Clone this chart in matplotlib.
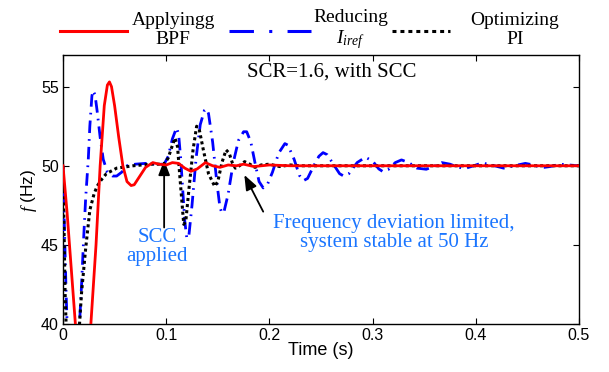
import matplotlib
matplotlib.use("Agg")
import matplotlib.pyplot as plt
from matplotlib.lines import Line2D

plt.rcParams['mathtext.fontset'] = 'custom'
plt.rcParams['mathtext.it'] = 'Liberation Serif:italic'
plt.rcParams['mathtext.rm'] = 'Liberation Serif'

# ---------------- data ----------------
t_bpf = [0.000, 0.004, 0.008, 0.012, 0.014, 0.025, 0.027, 0.032, 0.036, 0.040, 0.043,
         0.045, 0.047, 0.050, 0.054, 0.058, 0.062, 0.066, 0.069, 0.074, 0.080, 0.087,
         0.093, 0.100, 0.106, 0.112, 0.118, 0.124, 0.130, 0.138, 0.145, 0.152, 0.160,
         0.168, 0.175, 0.185, 0.200, 0.220, 0.500]
f_bpf = [50.0, 47.0, 43.5, 40.0, 38.0, 38.0, 40.0, 45.0, 50.0, 53.8, 55.1,
         55.3, 55.0, 53.8, 51.8, 50.0, 49.0, 48.75, 48.8, 49.3, 49.9, 50.2,
         50.1, 50.05, 50.2, 50.15, 49.85, 49.65, 49.8, 50.2, 50.0, 49.9, 50.05,
         50.0, 50.1, 49.95, 50.05, 50.0, 50.0]

t_iref = [0.000, 0.001, 0.003, 0.004, 0.005, 0.014, 0.016, 0.018, 0.020, 0.022, 0.0245,
          0.026, 0.028, 0.029, 0.031, 0.033, 0.036, 0.039, 0.043, 0.048, 0.052, 0.057,
          0.062, 0.070, 0.080, 0.090, 0.098, 0.102, 0.106, 0.110, 0.112, 0.114, 0.116,
          0.118, 0.120, 0.122, 0.125, 0.129, 0.133, 0.137, 0.139, 0.141, 0.145, 0.149,
          0.152, 0.154, 0.156, 0.160, 0.165, 0.170, 0.175, 0.178, 0.182, 0.186, 0.190,
          0.194, 0.198, 0.203, 0.209, 0.215, 0.218, 0.224, 0.229, 0.233, 0.237, 0.243,
          0.248, 0.252, 0.256, 0.263, 0.268, 0.272, 0.277, 0.285, 0.293, 0.300, 0.306,
          0.310, 0.315, 0.322, 0.328, 0.335, 0.343, 0.352, 0.359, 0.367, 0.375, 0.383,
          0.390, 0.398, 0.406, 0.415, 0.427, 0.437, 0.448, 0.456, 0.464, 0.472, 0.482,
          0.490, 0.500]
f_iref = [50.0, 47.0, 42.0, 40.0, 38.0, 38.0, 40.0, 42.5, 45.4, 48.0, 50.4,
          52.5, 54.4, 54.75, 54.5, 53.5, 51.8, 50.4, 49.6, 49.35, 49.35, 49.6,
          50.0, 50.1, 50.15, 50.1, 50.1, 50.6, 51.7, 52.4, 52.0, 50.5, 48.5,
          46.5, 45.4, 45.6, 47.5, 50.5, 52.6, 53.5, 53.6, 53.3, 51.5, 49.0,
          47.4, 47.0, 47.1, 48.2, 50.2, 51.6, 52.15, 52.15, 51.5, 50.2, 49.0,
          48.6, 48.8, 49.6, 50.8, 51.4, 51.3, 50.4, 49.4, 49.06, 49.2, 50.0,
          50.6, 50.83, 50.7, 50.0, 49.5, 49.35, 49.5, 50.2, 50.54, 50.3, 49.8,
          49.63, 49.75, 50.2, 50.37, 50.2, 49.85, 49.78, 49.95, 50.2, 50.1, 49.9,
          49.84, 50.0, 50.18, 50.05, 49.85, 50.0, 50.15, 50.05, 49.88, 49.95, 50.1,
          50.05, 50.0]

t_pi = [0.000, 0.001, 0.002, 0.003, 0.004, 0.015, 0.016, 0.018, 0.022, 0.026, 0.030,
        0.033, 0.037, 0.042, 0.052, 0.068, 0.085, 0.098, 0.102, 0.105, 0.1085, 0.111,
        0.113, 0.117, 0.119, 0.122, 0.126, 0.1295, 0.132, 0.136, 0.141, 0.147, 0.150,
        0.154, 0.158, 0.161, 0.164, 0.167, 0.171, 0.176, 0.181, 0.186, 0.192, 0.200,
        0.210, 0.220, 0.230, 0.500]
f_pi = [50.0, 46.0, 42.0, 40.0, 38.0, 38.0, 40.0, 42.0, 44.8, 47.2, 48.2,
        48.7, 49.1, 49.5, 49.85, 50.0, 50.1, 50.1, 50.5, 51.1, 51.75, 51.2,
        49.5, 46.3, 46.5, 48.5, 51.0, 52.5, 52.3, 51.0, 49.5, 48.7, 49.0,
        50.2, 51.0, 50.8, 50.2, 49.85, 50.0, 50.26, 50.1, 49.9, 50.05, 50.1,
        49.95, 50.05, 50.0, 50.0]

x_ticks = [0, 0.1, 0.2, 0.3, 0.4, 0.5]
x_tick_labels = ['0', '0.1', '0.2', '0.3', '0.4', '0.5']
y_ticks = [40, 45, 50, 55]
y_tick_labels = ['40', '45', '50', '55']

labels = ['Applyingg\nBPF', 'Reducing\n$I_{iref}$', 'Optimizing\nPI']

# ---------------- figure ----------------
fig = plt.figure(figsize=(6.09, 3.72), dpi=100)
ax = fig.add_axes([63/609, 1-324/372, (579-63)/609, (324-55)/372])

red = '#ff0000'
blue = '#0000ff'
txtblue = '#1a75ff'

ls_blue = (0, (4.5, 2.2, 0.6, 2.2))
ls_black = (0, (1.0, 1.0))

ax.plot(t_iref, f_iref, color=blue, lw=2.0, ls=ls_blue, zorder=3)
ax.plot(t_pi, f_pi, color='black', lw=2.2, ls=ls_black, zorder=4)
ax.plot(t_bpf, f_bpf, color=red, lw=2.0, ls='-', zorder=5)

ax.set_xlim(0, 0.5)
ax.set_ylim(40, 57)
ax.set_xticks(x_ticks)
ax.set_xticklabels(x_tick_labels)
ax.set_yticks(y_ticks)
ax.set_yticklabels(y_tick_labels)
ax.tick_params(direction='in', top=True, right=True, length=4, width=0.8,
               labelsize=11.5, pad=3)
for lab in ax.get_xticklabels() + ax.get_yticklabels():
    lab.set_fontfamily('Liberation Sans')
for s in ax.spines.values():
    s.set_linewidth(1.0)

ax.set_xlabel('Time (s)', fontsize=13, fontfamily='Liberation Sans', labelpad=-1)
fig.text(29/609, 1-190/372, r'$f$ (Hz)', fontsize=12.5, fontfamily='Liberation Sans',
         rotation=90, ha='center', va='center')

ax.text(0.26, 55.9, 'SCR=1.6, with SCC', fontsize=15, fontfamily='Liberation Serif',
        ha='center', va='center')

ax.annotate('', xy=(0.098, 50.35), xytext=(0.098, 46.1),
            arrowprops=dict(arrowstyle='-|>,head_length=0.9,head_width=0.35',
                            color='black', lw=1.3, shrinkA=0, shrinkB=0))
ax.text(0.091, 44.87, 'SCC\napplied', fontsize=15, fontfamily='Liberation Serif',
        color=txtblue, ha='center', va='center', linespacing=1.0)

ax.annotate('', xy=(0.1757, 49.42), xytext=(0.194, 47.1),
            arrowprops=dict(arrowstyle='-|>,head_length=0.9,head_width=0.35',
                            color='black', lw=1.3, shrinkA=0, shrinkB=0))
ax.text(0.3207, 45.78, 'Frequency deviation limited,\nsystem stable at 50 Hz',
        fontsize=15, fontfamily='Liberation Serif', color=txtblue,
        ha='center', va='center', linespacing=1.0)

# ---------------- legend (manual, above axes) ----------------
hy = 1 - 31/372
fig.add_artist(Line2D([60/609, 127/609], [hy, hy], color=red, lw=2.2,
                      transform=fig.transFigure))
fig.add_artist(Line2D([229/609, 311/609], [hy, hy], color=blue, lw=2.2,
                      ls=(0, (8, 5, 1, 5)), transform=fig.transFigure))
fig.add_artist(Line2D([392/609, 450/609], [hy, hy], color='black', lw=2.2,
                      ls=(0, (1.3, 1.3)), transform=fig.transFigure))
for xc, lab in zip([173, 351, 515], labels):
    fig.text(xc/609, 1-30/372, lab, fontsize=14, fontfamily='Liberation Serif',
             ha='center', va='center', multialignment='center', linespacing=1.15)

fig.savefig('out.png', dpi=100)
